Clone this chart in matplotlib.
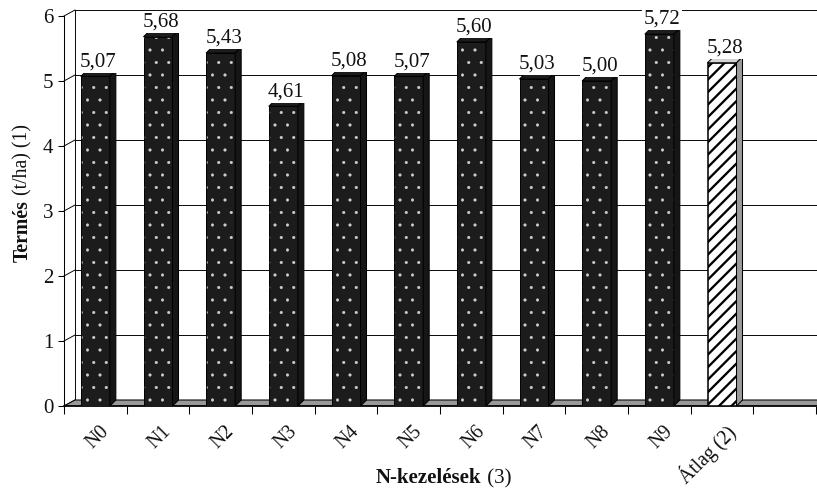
import matplotlib
matplotlib.use('Agg')
import matplotlib.pyplot as plt
from matplotlib.patches import Polygon
import numpy as np

# data
categories = ['N0', 'N1', 'N2', 'N3', 'N4', 'N5', 'N6', 'N7', 'N8', 'N9', 'Átlag (2)']
yields = [5.07, 5.68, 5.43, 4.61, 5.08, 5.07, 5.60, 5.03, 5.00, 5.72, 5.28]
y_ticks = [0, 1, 2, 3, 4, 5, 6]
n_slots = 12  # the last slot stays empty

plt.rcParams['font.family'] = ['Liberation Serif', 'DejaVu Serif']
plt.rcParams['hatch.linewidth'] = 0.5

FS = 20
TXT = '#111111'
DPI = 75
W, H = 817, 488
fig = plt.figure(figsize=(W / DPI, H / DPI), dpi=DPI)
left_px, right_px, top_px, bot_px = 64, 816, 16, 406
ax = fig.add_axes([left_px / W, (H - bot_px) / H,
                   (right_px - left_px) / W, (bot_px - top_px) / H])
ax.set_xlim(-0.5, n_slots - 0.5)
ax.set_ylim(y_ticks[0], y_ticks[-1])

# pixel -> data units, for the fake 3d depth
sx = (right_px - left_px) / n_slots
sy = (bot_px - top_px) / (y_ticks[-1] - y_ticks[0])
dx, dy = 11 / sx, 6 / sy        # depth of walls
bdx, bdy = 6 / sx, 6 / sy       # depth of bars
bw = 29 / sx                    # bar width

x0 = -0.5
x1 = n_slots - 0.5

# back wall + side wall grid
for v in y_ticks:
    ax.plot([x0, x0 + dx], [v, v + dy], color='black', lw=0.9, clip_on=False, zorder=1)
    if v > 0:
        ax.plot([x0 + dx, x1 + dx], [v + dy, v + dy], color='black', lw=0.9,
                clip_on=False, zorder=1)
ax.plot([x0 + dx, x0 + dx], [dy, y_ticks[-1] + dy], color='black', lw=0.9,
        clip_on=False, zorder=1)

# floor
floor = Polygon([(x0, 0), (x1, 0), (x1 + dx, dy), (x0 + dx, dy)],
                closed=True, fc='#999999', ec='black', lw=1, clip_on=False, zorder=2)
ax.add_patch(floor)

xs = np.arange(len(categories))
vals = np.array(yields)

# dotted dark bars
dots = ax.bar(xs[:-1], vals[:-1], width=bw, color='#1c1c1c', edgecolor='#d0d0d0',
              linewidth=0, hatch='.', zorder=4)
ax.bar(xs[:-1], vals[:-1], width=bw, fill=False, edgecolor='black', linewidth=0.8, zorder=4.5)

# average bar, hatched
avg_bar = ax.bar(xs[-1:], vals[-1:], width=bw, color='white', edgecolor='black',
                 linewidth=1.5, hatch='//', zorder=4)
for p in avg_bar:
    if hasattr(p, 'set_hatch_linewidth'):
        p.set_hatch_linewidth(2.2)

# top and side faces
for i, (xi, v) in enumerate(zip(xs, vals)):
    avg = i == len(categories) - 1
    top_c = '#d4d4d4' if avg else '#1c1c1c'
    side_c = '#9a9a9a' if avg else '#161616'
    l, r = xi - bw / 2, xi + bw / 2
    top = Polygon([(l, v), (l + bdx, v + bdy), (r + bdx, v + bdy), (r, v)],
                  closed=True, fc=top_c, ec='black', lw=1.0, zorder=4.6)
    side = Polygon([(r, 0), (r, v), (r + bdx, v + bdy), (r + bdx, bdy)],
                   closed=True, fc=side_c, ec='black', lw=1.0, zorder=4.6)
    ax.add_patch(top)
    ax.add_patch(side)
    ax.annotate(f'{v:.2f}'.replace('.', ','), xy=(xi + bdx / 2, v + bdy),
                xytext=(0, 4), textcoords='offset points', ha='center', va='baseline',
                fontsize=FS, color=TXT, zorder=6, annotation_clip=False,
                bbox=dict(fc='white', ec='none', pad=1.5))

# category labels, rotated
for xi, c in zip(xs, categories):
    ax.annotate(c, xy=(xi + 0.17, 0), xytext=(0, -22), textcoords='offset points',
                rotation=45, rotation_mode='anchor', ha='right', va='center',
                fontsize=19, color=TXT, annotation_clip=False)

# axes
for s in ['top', 'right']:
    ax.spines[s].set_visible(False)
ax.spines['left'].set_linewidth(1.0)
ax.spines['bottom'].set_linewidth(1.5)
ax.set_yticks(y_ticks)
ax.set_yticklabels([str(t) for t in y_ticks])
ax.set_xticks(np.arange(n_slots + 1) - 0.5)
ax.set_xticklabels([])
ax.tick_params(axis='y', direction='out', length=6, width=1, pad=4, labelsize=FS,
               labelcolor=TXT)
ax.tick_params(axis='x', direction='out', length=7.5, width=1)

# axis titles: bold word + regular part
t1 = fig.text(23 / W, (H - 262) / H, 'Termés', rotation=90, ha='center', va='bottom',
              fontsize=19, fontweight='bold', color=TXT)
ax.annotate(' (t/ha) (1)', xy=(0.5, 1), xycoords=t1, ha='center', va='bottom',
            rotation=90, fontsize=19, color=TXT, annotation_clip=False)

t2 = fig.text(376 / W, (H - 483) / H, 'N-kezelések', ha='left', va='baseline',
              fontsize=FS, fontweight='bold', color=TXT)
ax.annotate(' (3)', xy=(1, 0), xycoords=t2, ha='left', va='bottom',
            fontsize=FS, color=TXT, annotation_clip=False)

fig.savefig('out.png', dpi=DPI)
